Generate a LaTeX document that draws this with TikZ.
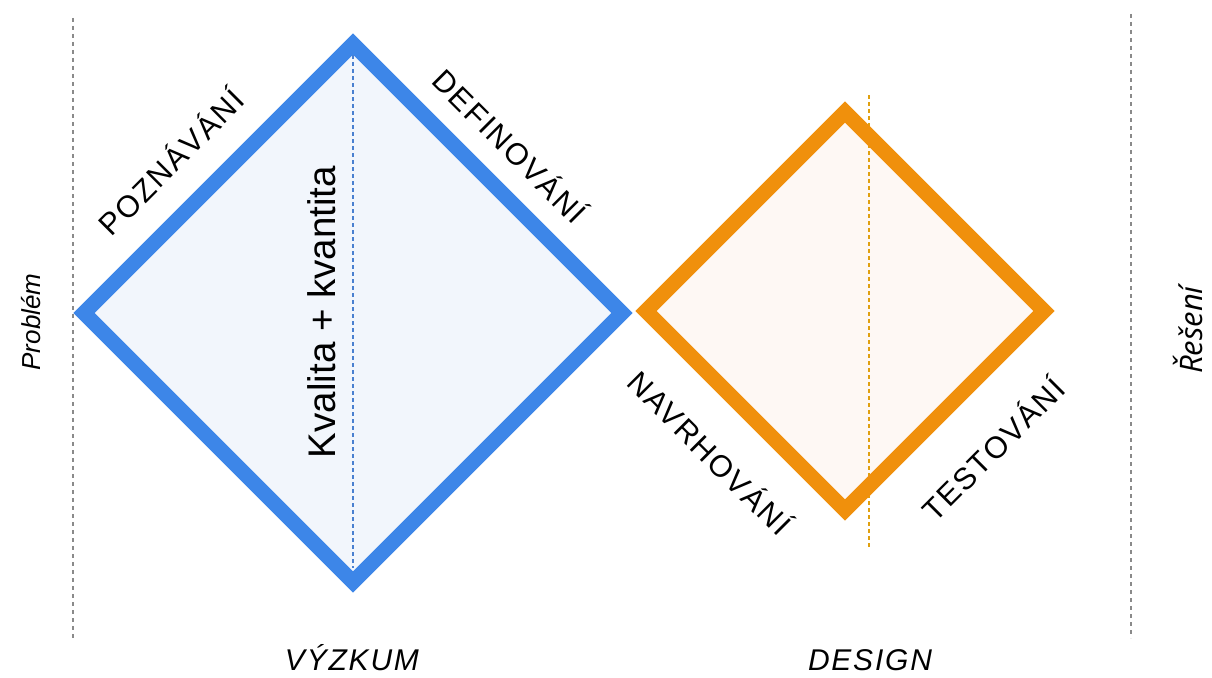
\documentclass[tikz,border=0pt]{standalone}
\usepackage{fontspec}
\setmainfont{Liberation Sans}
\newfontfamily\lblfont[LetterSpace=6]{Liberation Sans}
\newfontfamily\resfont{Open Sans}
\definecolor{dblue}{HTML}{3D86E8}
\definecolor{dbluefill}{HTML}{F2F6FC}
\definecolor{dblueline}{HTML}{4A80D0}
\definecolor{dorange}{HTML}{F0900C}
\definecolor{dorangefill}{HTML}{FEF8F4}
\definecolor{dorangeline}{HTML}{E0A010}
\definecolor{dgray}{HTML}{8A8A8A}
\tikzset{
  edgeblue/.style={draw=dblue, line width=15pt, line join=miter},
  edgeorange/.style={draw=dorange, line width=15pt, line join=miter},
  sepline/.style={draw=dgray, line width=2pt, dash pattern=on 4pt off 4pt},
  axisblue/.style={draw=dblueline, line width=1.6pt, dash pattern=on 4pt off 3pt},
  axisorange/.style={draw=dorangeline, line width=1.8pt, dash pattern=on 4pt off 3pt},
  phase/.style={font=\lblfont\fontsize{30.5}{32}\selectfont, inner sep=0pt},
  stage/.style={font=\lblfont\itshape\fontsize{30}{32}\selectfont, inner sep=0pt},
  endlbl/.style={font=\fontsize{26}{28}\selectfont\itshape, inner sep=0pt, rotate=90}
}
\begin{document}
\begin{tikzpicture}[x=1pt,y=-1pt]
\useasboundingbox (0,0) rectangle (1212,677);
\fill[white] (0,0) rectangle (1212,677);
% separators
\coordinate (sl1) at (73,18); \coordinate (sl2) at (73,641);
\coordinate (sr1) at (1131,14); \coordinate (sr2) at (1131,638);
\draw[sepline] (sl1) -- (sl2);
\draw[sepline] (sr1) -- (sr2);
% blue diamond
\coordinate (bL) at (84,313); \coordinate (bT) at (353,44);
\coordinate (bR) at (622,313); \coordinate (bB) at (353,582);
\fill[dbluefill] (bL) -- (bT) -- (bR) -- (bB) -- cycle;
\coordinate (ba1) at (353,55); \coordinate (ba2) at (353,568);
\draw[axisblue] (ba1) -- (ba2);
\draw[edgeblue] (bL) -- (bT) -- (bR) -- (bB) -- cycle;
% orange diamond
\coordinate (oL) at (646,311); \coordinate (oT) at (845,112);
\coordinate (oR) at (1044,311); \coordinate (oB) at (845,510);
\fill[dorangefill] (oL) -- (oT) -- (oR) -- (oB) -- cycle;
\coordinate (oa1) at (869,95); \coordinate (oa2) at (869,547);
\draw[axisorange] (oa1) -- (oa2);
\draw[edgeorange] (oL) -- (oT) -- (oR) -- (oB) -- cycle;
% labels
\node[font=\fontsize{38.5}{40}\selectfont, inner sep=0pt, rotate=90] (kk) at (322,312) {Kvalita + kvantita};
\node[phase, rotate=45] (poz) at (170,161) {POZNÁVÁNÍ};
\node[phase, rotate=-45] (def) at (511,145) {DEFINOVÁNÍ};
\node[phase, rotate=-45] (nav) at (711,452) {NAVRHOVÁNÍ};
\node[phase, rotate=45] (tes) at (992,448) {TESTOVÁNÍ};
\node[endlbl] (prob) at (31,322) {Problém};
\node[endlbl, font=\resfont\itshape\fontsize{31}{33}\selectfont] (res) at (1188,330) {Řešení};
\node[stage] (vyz) at (352,658) {VÝZKUM};
\node[stage] (des) at (870,660) {DESIGN};
\end{tikzpicture}
\end{document}
